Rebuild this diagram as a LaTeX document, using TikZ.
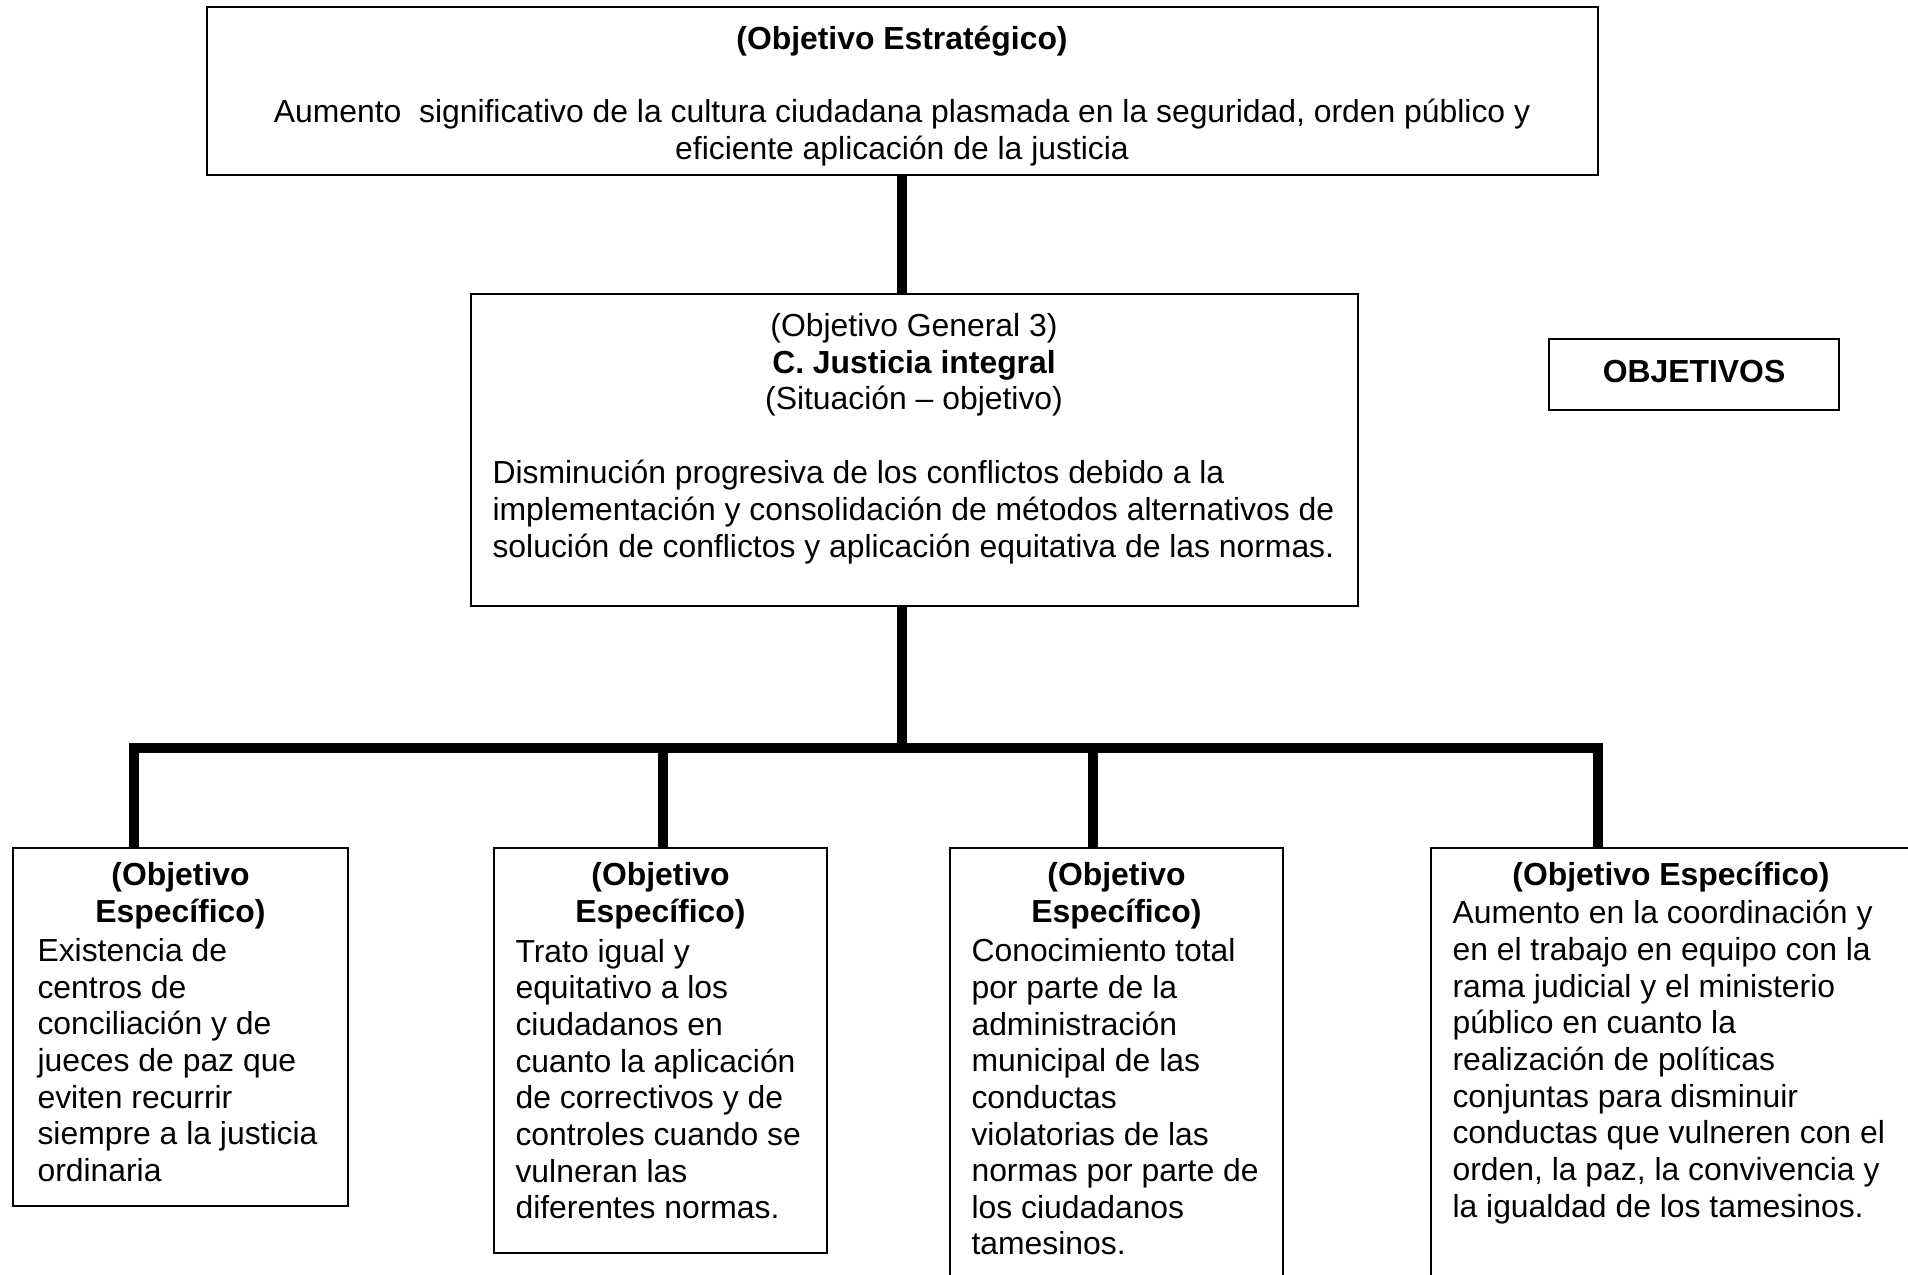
\documentclass[tikz,border=0pt]{standalone}
\usepackage{fontspec}
\setmainfont{Liberation Sans}
\usetikzlibrary{fit}
\begin{document}
\begin{tikzpicture}[x=0.378pt,y=-0.378pt,
  box/.style={draw, line width=0.8pt, inner sep=0pt},
  txt/.style={inner sep=0pt, font=\fontsize{12.05}{13.85}\selectfont},
  head/.style={txt, font=\fontsize{12.05}{13.85}\selectfont\bfseries, align=center},
  body/.style={txt, align=left, anchor=west},
  conn/.style={line width=3.6pt, line join=miter}]
\useasboundingbox (0,0) rectangle (1908,1274);
\fill[white] (0,0) rectangle (1908,1274);

% boxes
\node[box, fit={(207,7) (1598,175)}] (top) {};
\node[box, fit={(471,294) (1358,606)}] (mid) {};
\node[box, fit={(1549,339) (1839,410)}] (obj) {};
\node[box, fit={(13,848) (348,1206)}] (b1) {};
\node[box, fit={(494,848) (827,1253)}] (b2) {};
\node[box, fit={(950,848) (1283,1290)}] (b3) {};
\node[box, fit={(1431,848) (1912,1290)}] (b4) {};

% texts
\node[txt, align=center] (topt) at (902,96) {\textbf{(Objetivo Estratégico)}\\[13.85pt]
  Aumento~ significativo de la cultura ciudadana plasmada en la seguridad, orden público y\\
  eficiente aplicación de la justicia};

\node[txt, align=center] (midh) at (914,365) {(Objetivo General 3)\\\textbf{C. Justicia integral}\\(Situación – objetivo)};
\node[body] (midb) at (492,512) {Disminución progresiva de los conflictos debido a la\\
  implementación y consolidación de métodos alternativos de\\
  solución de conflictos y aplicación equitativa de las normas.};

\node[head] (objt) at (1694,372) {OBJETIVOS};

\node[head] (h1) at (180.5,896) {(Objetivo\\Específico)};
\node[head] (h2) at (660.5,896) {(Objetivo\\Específico)};
\node[head] (h3) at (1116.5,896) {(Objetivo\\Específico)};
\node[head] (h4) at (1671,877) {(Objetivo Específico)};

\node[body] (t1) at (37,1060) {Existencia de\\centros de\\conciliación y de\\jueces de paz que\\eviten recurrir\\siempre a la justicia\\ordinaria};
\node[body] (t2) at (515,1079) {Trato igual y\\equitativo a los\\ciudadanos en\\cuanto la aplicación\\de correctivos y de\\controles cuando se\\vulneran las\\diferentes normas.};
\node[body] (t3) at (971,1097) {Conocimiento total\\por parte de la\\administración\\municipal de las\\conductas\\violatorias de las\\normas por parte de\\los ciudadanos\\tamesinos.};
\node[body] (t4) at (1452,1062) {Aumento en la coordinación y\\en el trabajo en equipo con la\\rama judicial y el ministerio\\público en cuanto la\\realización de políticas\\conjuntas para disminuir\\conductas que vulneren con el\\orden, la paz, la convivencia y\\la igualdad de los tamesinos.};

% connectors
\coordinate (bus) at (902,748);
\coordinate (busL) at (134,748);
\coordinate (busR) at (1598,748);
\coordinate (d2) at (663,748);
\coordinate (d3) at (1093,748);
\draw[conn] (top.south -| bus) -- (mid.north -| bus);
\draw[conn] (mid.south -| bus) -- (bus);
\draw[conn] (b1.north -| busL) -- (busL) -- (busR) -- (b4.north -| busR);
\draw[conn] (d2) -- (b2.north -| d2);
\draw[conn] (d3) -- (b3.north -| d3);
\end{tikzpicture}
\end{document}
